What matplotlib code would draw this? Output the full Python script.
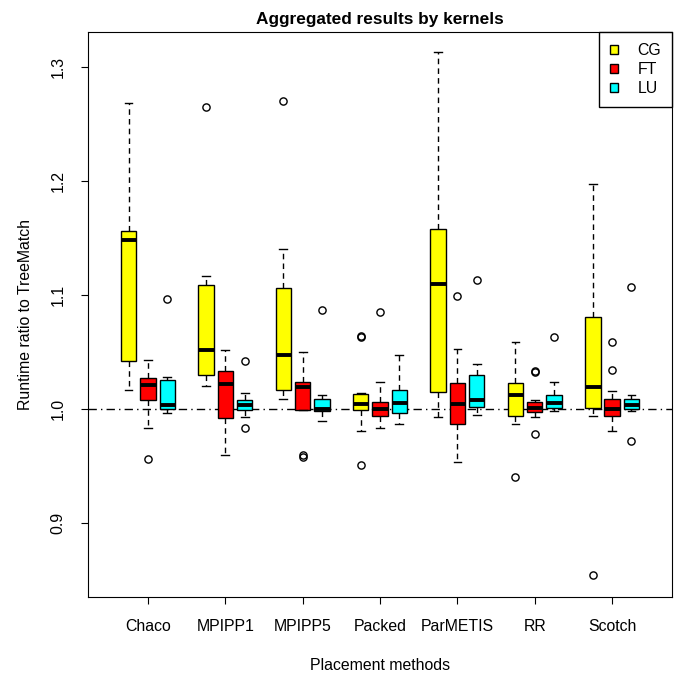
import matplotlib.pyplot as plt
from matplotlib.patches import Patch

plt.rcParams['font.family'] = ['Liberation Sans', 'DejaVu Sans']

methods = ["Chaco", "MPIPP1", "MPIPP5", "Packed", "ParMETIS", "RR", "Scotch"]
kernels = ["CG", "FT", "LU"]
colors = ["#ffff00", "#ff0000", "#00ffff"]

# per box: lower whisker, q1, median, q3, upper whisker (order: method x kernel)
whislo = [1.017, 0.983, 0.996,
          1.020, 0.960, 0.993,
          1.009, 0.999, 0.989,
          0.981, 0.983, 0.987,
          0.993, 0.953, 0.995,
          0.987, 0.993, 0.998,
          0.994, 0.981, 0.998]
q1 = [1.042, 1.008, 1.000,
      1.030, 0.992, 0.999,
      1.017, 0.999, 0.998,
      0.999, 0.994, 0.996,
      1.015, 0.987, 1.002,
      0.994, 0.997, 1.001,
      1.001, 0.994, 1.000]
med = [1.148, 1.021, 1.003,
       1.052, 1.022, 1.003,
       1.047, 1.019, 1.000,
       1.004, 1.000, 1.005,
       1.110, 1.004, 1.008,
       1.012, 1.001, 1.005,
       1.019, 1.000, 1.003]
q3 = [1.156, 1.027, 1.025,
      1.109, 1.033, 1.008,
      1.106, 1.024, 1.009,
      1.013, 1.006, 1.017,
      1.158, 1.023, 1.030,
      1.023, 1.006, 1.012,
      1.081, 1.009, 1.009]
whishi = [1.268, 1.043, 1.028,
          1.117, 1.052, 1.014,
          1.140, 1.050, 1.012,
          1.014, 1.024, 1.047,
          1.313, 1.053, 1.039,
          1.059, 1.008, 1.024,
          1.197, 1.016, 1.012]
fliers = [[], [0.956], [1.096],
          [1.265], [], [1.042, 0.983],
          [1.270], [0.958, 0.960], [1.087],
          [1.063, 1.064, 0.951], [1.085], [],
          [], [1.099], [1.113],
          [0.940], [1.032, 1.033, 0.978], [1.063],
          [0.854], [1.059, 1.034], [1.107, 0.972]]

stats = []
positions = []
box_colors = []
for i in range(len(methods)):
    for j in range(len(kernels)):
        k = i * 3 + j
        stats.append({"whislo": whislo[k], "q1": q1[k], "med": med[k],
                      "q3": q3[k], "whishi": whishi[k], "fliers": fliers[k]})
        positions.append(i * 4 + j + 1)
        box_colors.append(colors[j])

fig = plt.figure(figsize=(6.83, 6.75), dpi=100)
ax = fig.add_axes([0.1288, 0.1156, 0.8552, 0.837])

bp = ax.bxp(stats, positions=positions, widths=0.8, patch_artist=True,
            capwidths=0.4,
            boxprops=dict(edgecolor="black", linewidth=1),
            whiskerprops=dict(color="black", linestyle=(0, (4, 3)), linewidth=1),
            capprops=dict(color="black", linewidth=1),
            medianprops=dict(color="black", linewidth=2.8, solid_capstyle="butt"),
            flierprops=dict(marker="o", markerfacecolor="none",
                            markeredgecolor="black", markersize=5.2,
                            markeredgewidth=1))
for patch, c in zip(bp["boxes"], box_colors):
    patch.set_facecolor(c)

ax.axhline(1.0, color="black", linestyle=(0, (6, 3, 1, 3)), linewidth=1, zorder=0.5)

ax.set_xlim(-1.1, 29.1)
ax.set_ylim(0.835, 1.3307)
ax.set_xticks([i * 4 + 2 for i in range(len(methods))])
ax.set_xticklabels(methods, fontsize=11.4)
ax.set_yticks([0.9, 1.0, 1.1, 1.2, 1.3])
ax.set_yticklabels(["0.9", "1.0", "1.1", "1.2", "1.3"], rotation=90,
                   va="center", fontsize=11.4)
ax.tick_params(axis="x", direction="out", length=5, pad=11)
ax.tick_params(axis="y", direction="out", length=5, pad=11)

ax.set_title("Aggregated results by kernels", fontsize=12.4, fontweight="bold", pad=6)
ax.set_xlabel("Placement methods", fontsize=11.4, labelpad=17)
ax.set_ylabel("Runtime ratio to TreeMatch", fontsize=11.4, labelpad=13)

handles = [Patch(facecolor=c, edgecolor="black", label=k) for c, k in zip(colors, kernels)]
leg = ax.legend(handles=handles, loc="upper right", fancybox=False, framealpha=1,
                edgecolor="black", borderaxespad=0, fontsize=11.4,
                handlelength=0.5, handleheight=0.45, handletextpad=1.2,
                labelspacing=0.25, borderpad=0.7)
leg.get_frame().set_linewidth(1)

plt.savefig("out.png")
